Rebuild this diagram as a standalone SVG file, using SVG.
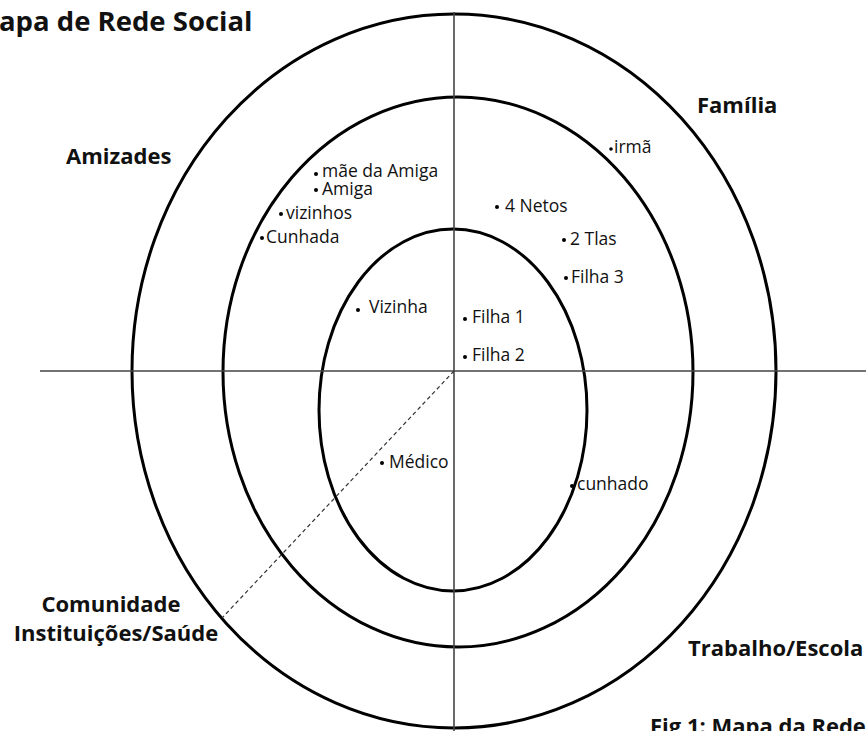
<svg xmlns="http://www.w3.org/2000/svg" width="866" height="731" viewBox="0 0 866 731">
<style>
.ring{fill:none;stroke:#000;stroke-width:3}
.axis{stroke:#444;stroke-width:1.6;fill:none}
.dash{stroke:#333;stroke-width:1.2;stroke-dasharray:4 3;fill:none}
.lbl{font-family:"Open Sans","Liberation Sans",sans-serif;font-weight:bold;font-size:22px;fill:#111}
.sm{font-family:"Open Sans","Liberation Sans",sans-serif;font-size:17.5px;fill:#111}
.dot{fill:#000}
</style>
<rect width="866" height="731" fill="#fff"/>
<g id="rings">
<ellipse id="outer" class="ring" cx="454" cy="371" rx="322" ry="357"/>
<ellipse id="middle" class="ring" cx="458" cy="372" rx="235" ry="275"/>
<ellipse id="inner" class="ring" cx="453" cy="410" rx="134" ry="181"/>
</g>
<g id="connectors">
<line class="axis" x1="454" y1="12" x2="454" y2="731"/>
<line class="axis" x1="40" y1="371" x2="866" y2="371"/>
<line class="dash" x1="454" y1="371" x2="222" y2="618"/>
</g>
<g id="title"><text class="lbl" x="-1" y="31" style="font-size:27.5px">apa de Rede Social</text></g>
<g id="sectors">
<text class="lbl" x="66" y="164">Amizades</text>
<text class="lbl" x="697" y="113">Família</text>
<text class="lbl" x="111" y="612" text-anchor="middle">Comunidade</text>
<text class="lbl" x="116" y="641" text-anchor="middle">Instituições/Saúde</text>
<text class="lbl" x="688" y="656">Trabalho/Escola</text>
<text class="lbl" x="650" y="734">Fig 1: Mapa da Rede</text>
</g>
<g id="people">
<g id="maeamiga"><circle class="dot" cx="316" cy="174" r="2"/><text class="sm" x="322" y="177">mãe da Amiga</text></g>
<g id="amiga"><circle class="dot" cx="316" cy="190" r="2"/><text class="sm" x="322" y="195">Amiga</text></g>
<g id="vizinhos"><circle class="dot" cx="281" cy="214" r="2"/><text class="sm" x="286" y="219">vizinhos</text></g>
<g id="cunhada"><circle class="dot" cx="262" cy="238" r="2"/><text class="sm" x="266" y="243">Cunhada</text></g>
<g id="irma"><circle class="dot" cx="611" cy="149" r="1.8"/><text class="sm" x="614" y="153">irmã</text></g>
<g id="netos"><circle class="dot" cx="497" cy="207" r="2"/><text class="sm" x="505" y="212">4 Netos</text></g>
<g id="tias"><circle class="dot" cx="564" cy="240" r="2"/><text class="sm" x="570" y="245">2 Tlas</text></g>
<g id="filha3"><circle class="dot" cx="566" cy="278" r="2"/><text class="sm" x="571" y="283">Filha 3</text></g>
<g id="vizinha"><circle class="dot" cx="358" cy="310" r="2"/><text class="sm" x="369" y="313">Vizinha</text></g>
<g id="filha1"><circle class="dot" cx="465" cy="319" r="2"/><text class="sm" x="472" y="323">Filha 1</text></g>
<g id="filha2"><circle class="dot" cx="465" cy="357" r="2"/><text class="sm" x="472" y="361">Filha 2</text></g>
<g id="medico"><circle class="dot" cx="382" cy="463" r="2"/><text class="sm" x="389" y="468">Médico</text></g>
<g id="cunhado"><circle class="dot" cx="572" cy="486" r="2"/><text class="sm" x="577" y="490">cunhado</text></g>
</g>
</svg>
